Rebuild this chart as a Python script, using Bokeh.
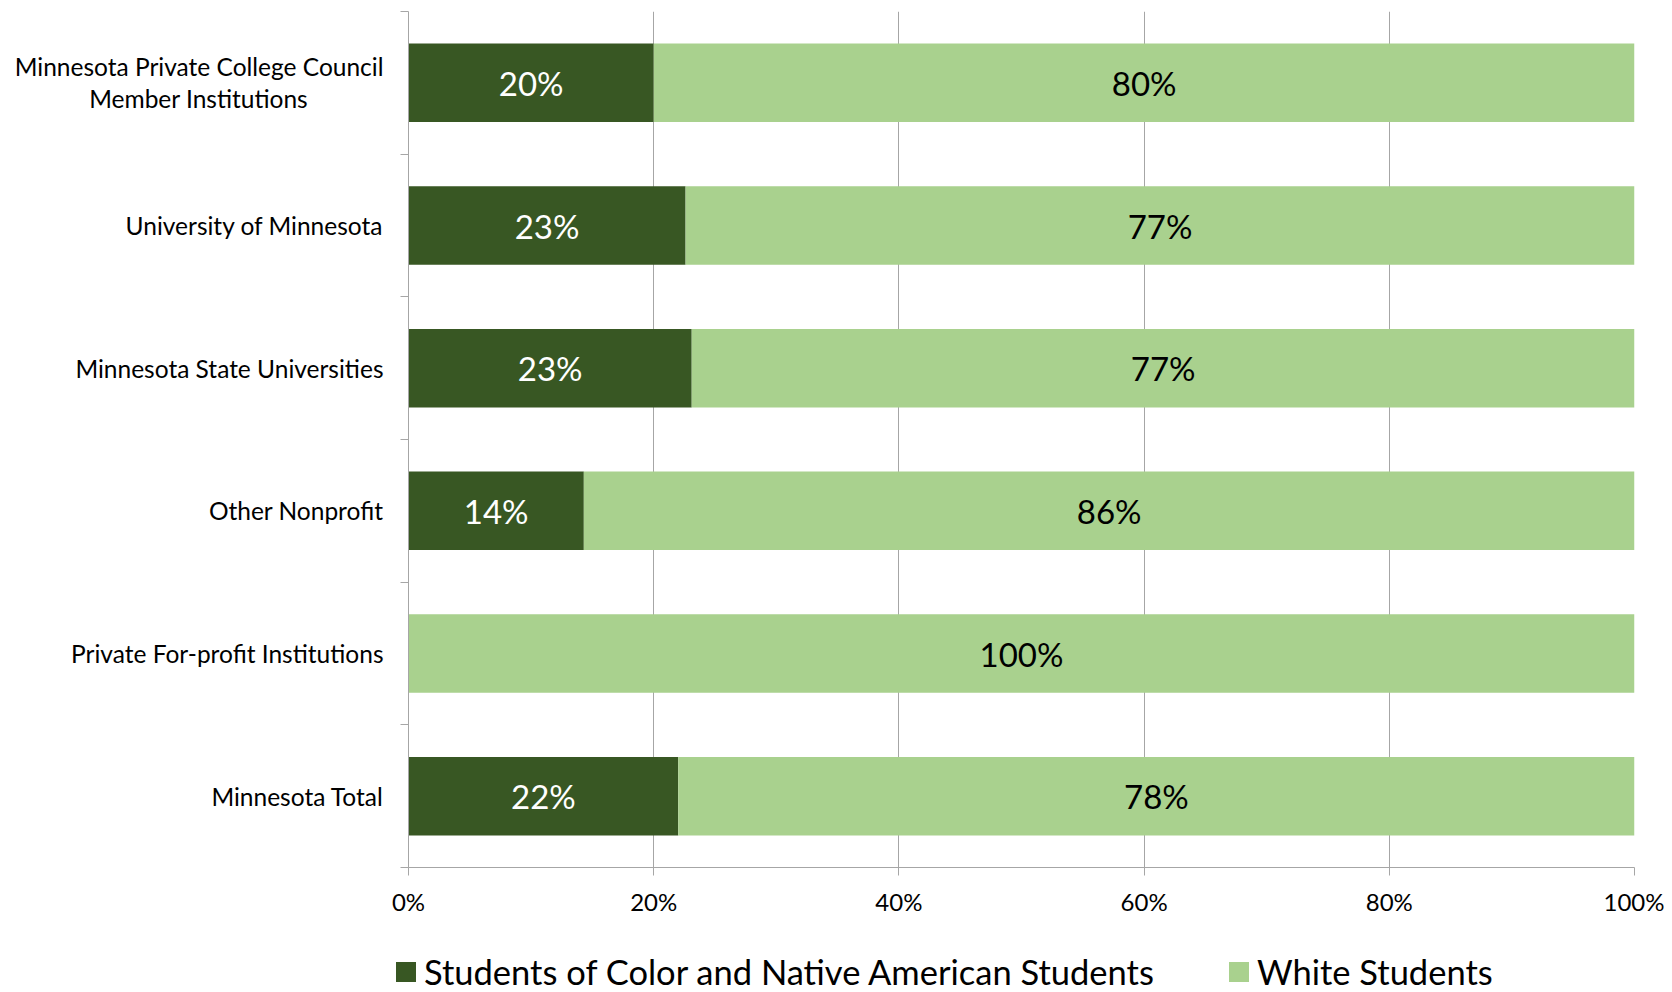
from bokeh.plotting import figure
from bokeh.layouts import column
from bokeh.models import (Range1d, FixedTicker, PrintfTickFormatter, Legend,
                          LegendItem, ColumnDataSource)
from bokeh.core.properties import value
from bokeh.embed import file_html
from bokeh.resources import INLINE

categories = [
    "Minnesota Private College Council\nMember Institutions" + "\u00a0" * 12,
    "University of Minnesota",
    "Minnesota State Universities",
    "Other Nonprofit",
    "Private For-profit Institutions",
    "Minnesota Total",
]
color_pct = [20.0, 22.6, 23.1, 14.3, 0.0, 22.0]
white_pct = [80.0, 77.4, 76.9, 85.7, 100.0, 78.0]
color_labels = ["20%", "23%", "23%", "14%", "", "22%"]
white_labels = ["80%", "77%", "77%", "86%", "100%", "78%"]
x_ticks = [0, 20, 40, 60, 80, 100]
series_names = ["Students of Color and Native American Students", "White Students"]

DARK = "#385723"
LIGHT = "#A9D18E"
GRAY = "#A6A6A6"
FONT = "Lato"

n = len(categories)
ypos = [n - i - 0.5 for i in range(n)]
white_end = [c + w for c, w in zip(color_pct, white_pct)]

p = figure(width=1664, height=930, output_backend="svg", toolbar_location=None,
           x_range=Range1d(0, 100), y_range=Range1d(0, n),
           min_border_left=408, min_border_right=30, min_border_top=11,
           min_border_bottom=63)
p.outline_line_color = None
p.background_fill_color = "white"
p.border_fill_color = "white"

r1 = p.hbar(y=ypos, left=0, right=color_pct, height=0.55, fill_color=DARK, line_color=None)
r2 = p.hbar(y=ypos, left=color_pct, right=white_end, height=0.55, fill_color=LIGHT,
            line_color=None)

lab_x, lab_y, lab_t, lab_c = [], [], [], []
for i in range(n):
    if color_labels[i]:
        lab_x.append(color_pct[i] / 2)
        lab_y.append(ypos[i])
        lab_t.append(color_labels[i])
        lab_c.append("white")
    if white_labels[i]:
        lab_x.append(color_pct[i] + white_pct[i] / 2)
        lab_y.append(ypos[i])
        lab_t.append(white_labels[i])
        lab_c.append("black")
src = ColumnDataSource(dict(x=lab_x, y=lab_y, t=lab_t, c=lab_c))
p.text(x="x", y="y", text="t", text_color="c", source=src, text_align="center",
       text_baseline="middle", text_font=value(FONT), text_font_size="33px")

# x axis
xa = p.xaxis[0]
xa.ticker = FixedTicker(ticks=x_ticks, minor_ticks=[])
xa.formatter = PrintfTickFormatter(format="%d%%")
xa.axis_line_color = GRAY
xa.major_tick_line_color = GRAY
xa.major_tick_out = 8
xa.major_tick_in = 0
xa.minor_tick_line_color = None
xa.major_label_standoff = 11
xa.major_label_text_font = FONT
xa.major_label_text_font_size = "24px"
xa.major_label_text_color = "black"

# y axis
ya = p.yaxis[0]
ya.ticker = FixedTicker(ticks=ypos, minor_ticks=list(range(n + 1)))
ya.major_label_overrides = {y: c for y, c in zip(ypos, categories)}
ya.axis_line_color = GRAY
ya.major_tick_line_color = None
ya.major_tick_out = 0
ya.major_tick_in = 0
ya.minor_tick_line_color = GRAY
ya.minor_tick_out = 8
ya.minor_tick_in = 0
ya.major_label_standoff = 17
ya.major_label_text_font = FONT
ya.major_label_text_font_size = "24.5px"
ya.major_label_text_line_height = 1.1
ya.major_label_text_color = "black"

p.xgrid.ticker = FixedTicker(ticks=x_ticks)
p.xgrid.grid_line_color = GRAY
p.ygrid.grid_line_color = None

# legend strip below the chart
leg = figure(width=1664, height=62, output_backend="svg", toolbar_location=None,
             x_range=Range1d(0, 100), y_range=Range1d(100, 101),
             x_axis_type=None, y_axis_type=None,
             min_border_left=408, min_border_right=0, min_border_top=0,
             min_border_bottom=0)
leg.outline_line_color = None
leg.grid.visible = False
leg.styles = {"transform": "translateX(-15px)"}
lr1 = leg.hbar(y=ypos, left=0, right=color_pct, height=0.55, fill_color=DARK, line_color=None)
lr2 = leg.hbar(y=ypos, left=color_pct, right=white_end, height=0.55, fill_color=LIGHT,
               line_color=None)
legend = Legend(items=[LegendItem(label=series_names[0], renderers=[lr1]),
                       LegendItem(label=series_names[1], renderers=[lr2])],
                orientation="horizontal", location="bottom_left",
                label_text_font=FONT, label_text_font_size="34.5px",
                label_text_color="black",
                glyph_width=25, glyph_height=25, label_standoff=6, spacing=72,
                padding=0, margin=0, border_line_color=None,
                background_fill_alpha=0)
leg.add_layout(legend)

open("out.html", "w").write(file_html(column(p, leg, spacing=0), INLINE))
